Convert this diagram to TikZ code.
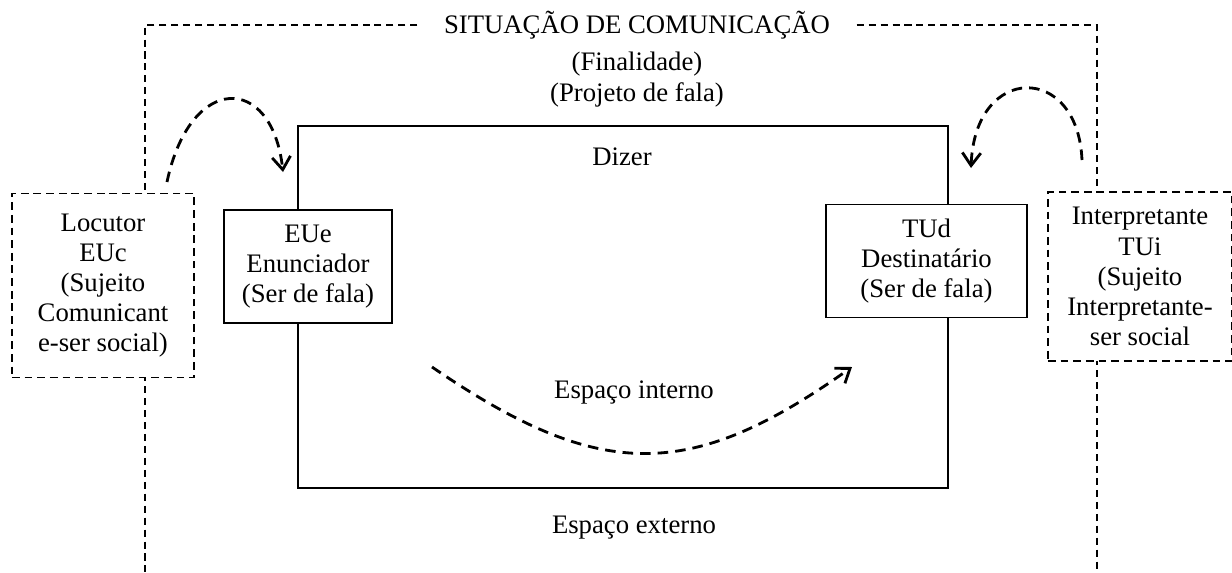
\documentclass[tikz,border=0pt]{standalone}
\usepackage{fontspec}
\setmainfont{Liberation Serif}
\usetikzlibrary{arrows.meta, positioning}
\tikzset{
  txt/.style = {align=center, inner sep=1pt, font=\fontsize{19}{21.4}\selectfont},
  box_s/.style = {txt, draw=black, fill=white, line width=1.2pt},% caixa interna
  box_d/.style = {txt, draw=black, fill=white, line width=1.2pt,
    dash pattern=on 5.5pt off 3.5pt},% caixa externa
  frame_l/.style = {line width=1.1pt, dash pattern=on 5pt off 3.5pt},
  arc_d/.style = {line width=2pt, dash pattern=on 7.5pt off 5pt,
    -{Straight Barb[length=3.2mm, width=4.6mm, line width=2pt]}}
}
\begin{document}
\begin{tikzpicture}[x=0.025cm, y=-0.025cm]
  \useasboundingbox (0,0) rectangle (1232,573);
  % espaco interno
  \node (dizer_box) [draw, line width=1.4pt, minimum width=16.25cm,
    minimum height=9.05cm] at (623,307) {};
  \node (dizer) [txt] at (622,157) {Dizer};
  \node (interno) [txt] at (634,392) {Espaço interno};
  \node (externo) [txt] at (634,528) {Espaço externo};
  % situacao de comunicacao
  \node (sit) [txt, inner xsep=0.66cm] at (637,25) {SITUAÇÃO DE COMUNICAÇÃO};
  \node (final) [txt] at (637,64) {(Finalidade)};
  \node (proj) [txt] at (637,95) {(Projeto de fala)};
  \coordinate (tl) at (145,25);
  \coordinate (tr) at (1097,25);
  \coordinate (bl) at (145,575);
  \coordinate (br) at (1097,575);
  \draw [frame_l] (sit.west) -- (tl) -- (bl);
  \draw [frame_l] (sit.east) -- (tr) -- (br);
  % sujeitos
  \node (loc) [box_d, minimum width=4.55cm, minimum height=4.6cm] at (103,285.5)
    {Locutor\\EUc\\(Sujeito\\Comunicant\\e-ser social)};
  \node (interp) [box_d, minimum width=4.6cm, minimum height=4.225cm] at (1140,276.5)
    {Interpretante\\TUi\\(Sujeito\\Interpretante-\\ser social};
  \node (eue) [box_s, minimum width=4.2cm, minimum height=2.825cm] at (308,266.5)
    {EUe\\Enunciador\\(Ser de fala)};
  \node (tud) [box_s, minimum width=5.025cm, minimum height=2.825cm] at (926.5,261)
    {TUd\\Destinatário\\(Ser de fala)};
  % setas
  \coordinate (l_a) at (167,182);
  \coordinate (l_b) at (283,172);
  \coordinate (r_a) at (1082,160);
  \coordinate (r_b) at (971,168);
  \coordinate (i_a) at (432,367);
  \coordinate (i_b) at (852,367);
  \draw [arc_d] (l_a) .. controls (190,73) and (272,73) .. (l_b);
  \draw [arc_d] (r_a) .. controls (1078,63) and (975,63) .. (r_b);
  \draw [arc_d] (i_a) .. controls (600,482) and (690,482) .. (i_b);
\end{tikzpicture}
\end{document}
